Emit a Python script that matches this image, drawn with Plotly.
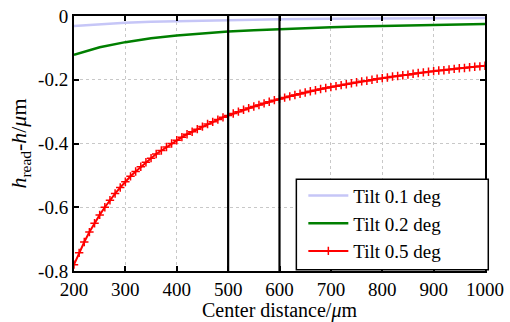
import plotly.graph_objects as go

# Tilt 0.5 deg (red, markers every 10 um)
x_red = list(range(200, 1001, 10))
y_red = [-0.780, -0.743, -0.709, -0.678, -0.650, -0.624, -0.600, -0.578, -0.557, -0.538,
         -0.520, -0.503, -0.488, -0.473, -0.459, -0.446, -0.433, -0.422, -0.411, -0.400,
         -0.390, -0.380, -0.371, -0.363, -0.355, -0.347, -0.339, -0.332, -0.325, -0.318,
         -0.312, -0.306, -0.300, -0.294, -0.289, -0.284, -0.279, -0.274, -0.269, -0.264,
         -0.260, -0.256, -0.252, -0.248, -0.244, -0.240, -0.236, -0.233, -0.229, -0.226,
         -0.223, -0.220, -0.217, -0.214, -0.211, -0.208, -0.205, -0.203, -0.200, -0.197,
         -0.195, -0.193, -0.190, -0.188, -0.186, -0.184, -0.181, -0.179, -0.177, -0.175,
         -0.173, -0.171, -0.170, -0.168, -0.166, -0.164, -0.163, -0.161, -0.159, -0.158,
         -0.156]

# Tilt 0.2 deg (green)
x_green = [200, 250, 300, 350, 400, 450, 500, 550, 600, 650, 700, 750, 800, 850, 900, 950, 1000]
y_green = [-0.122, -0.098, -0.082, -0.070, -0.061, -0.054, -0.049, -0.045, -0.041, -0.038,
           -0.035, -0.033, -0.031, -0.029, -0.027, -0.026, -0.025]

# Tilt 0.1 deg (light blue)
x_blue = [200, 250, 300, 350, 400, 500, 600, 700, 800, 900, 1000]
y_blue = [-0.031, -0.025, -0.021, -0.018, -0.016, -0.012, -0.010, -0.009, -0.008, -0.007, -0.006]

x_marks = [500, 600]
x_ticks = [200, 300, 400, 500, 600, 700, 800, 900, 1000]
y_ticks = [0, -0.2, -0.4, -0.6, -0.8]
y_ticklabels = ["0", "-0.2", "-0.4", "-0.6", "-0.8"]

FONT = "Times New Roman"

fig = go.Figure()
fig.add_trace(go.Scatter(x=x_blue, y=y_blue, mode="lines", name="Tilt 0.1 deg",
                         line=dict(color="#c6c6f7", width=2.5)))
fig.add_trace(go.Scatter(x=x_green, y=y_green, mode="lines", name="Tilt 0.2 deg",
                         line=dict(color="#007f00", width=2.5)))
fig.add_trace(go.Scatter(x=x_red, y=y_red, mode="lines+markers", name="Tilt 0.5 deg",
                         line=dict(color="#ff0000", width=2),
                         marker=dict(symbol="cross-thin", size=6, line=dict(color="#ff0000", width=1.5))))

for xm in x_marks:
    fig.add_trace(go.Scatter(x=[xm, xm], y=[0, -0.8], mode="lines",
                             line=dict(color="black", width=2.2), showlegend=False, hoverinfo="skip"))

axis_common = dict(showline=True, linecolor="black", linewidth=2, mirror="ticks",
                   ticks="inside", ticklen=5, tickwidth=2, tickcolor="black",
                   showgrid=True, gridcolor="#c8c8c8", griddash="dot", gridwidth=1,
                   zeroline=False, ticklabeloverflow="allow")

fig.update_xaxes(range=[200, 1000], tickvals=x_ticks, ticktext=[str(v) for v in x_ticks],
                 tickfont=dict(family=FONT, size=19, color="black"),
                 title=dict(text="Center distance/<i>μ</i>m", font=dict(family=FONT, size=20, color="black"),
                            standoff=2),
                 **axis_common)
fig.update_yaxes(range=[-0.8, 0], tickvals=y_ticks, ticktext=y_ticklabels,
                 tickfont=dict(family=FONT, size=19, color="black"),
                 title=dict(text="<i>h</i><sub>read</sub>-<i>h</i>/<i>μ</i>m",
                            font=dict(family=FONT, size=22, color="black"), standoff=5),
                 **axis_common)

fig.add_shape(type="rect", xref="paper", yref="paper", x0=0.541, x1=1.008, y0=0.005, y1=0.36,
              line=dict(color="black", width=1.5), fillcolor="white", layer="above")

fig.update_layout(
    width=510, height=322,
    margin=dict(l=74, r=22, t=6, b=51),
    paper_bgcolor="white", plot_bgcolor="white",
    showlegend=True,
    legend=dict(x=0.558, y=0.37, xanchor="left", yanchor="top",
                bgcolor="rgba(0,0,0,0)", borderwidth=0, tracegroupgap=0, itemwidth=40,
                font=dict(family=FONT, size=19, color="black")),
    font=dict(family=FONT, color="black"),
)

fig.write_html("out.html", config={"displayModeBar": False},
               post_script="document.body.style.margin='0';")
